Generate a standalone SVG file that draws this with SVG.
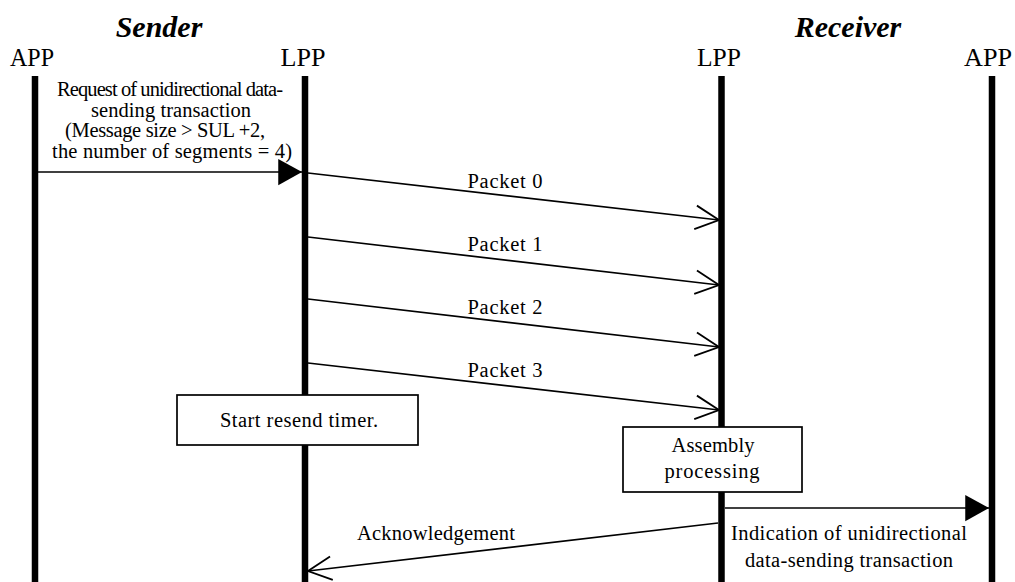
<svg xmlns="http://www.w3.org/2000/svg" width="1015" height="582" viewBox="0 0 1015 582">
  <style>
    .title { font-family: "Liberation Serif", "Times New Roman", serif; font-size: 30px; font-weight: bold; font-style: italic; fill: #000; text-anchor: middle; }
    .head { font-family: "Liberation Serif", "Times New Roman", serif; font-size: 26px; fill: #000; text-anchor: middle; }
    .lbl { font-family: "Liberation Serif", "Times New Roman", serif; font-size: 20.5px; fill: #000; text-anchor: middle; }
    .life { stroke: #000; stroke-width: 6.5; }
    .msg { stroke: #000; stroke-width: 1.7; fill: none; }
    .box { fill: #fff; stroke: #000; stroke-width: 1.7; }
  </style>
  <defs>
    <marker id="open" markerUnits="userSpaceOnUse" markerWidth="30" markerHeight="30" refX="0" refY="0" viewBox="-25 -14 28 28" orient="auto" overflow="visible">
      <path d="M-22,-11 L0,0 L-22,11" fill="none" stroke="#000" stroke-width="1.7"/>
    </marker>
    <marker id="solid" markerUnits="userSpaceOnUse" markerWidth="30" markerHeight="30" refX="0" refY="0" viewBox="-22 -12 24 24" orient="auto" overflow="visible">
      <path d="M-19,-10.5 L0,0 L-19,10.5 Z" fill="#000"/>
    </marker>
  </defs>

  <rect width="1015" height="582" fill="#fff"/>

  <!-- Side titles -->
  <text class="title" x="159" y="37">Sender</text>
  <text class="title" x="848" y="37">Receiver</text>

  <!-- Lifelines -->
  <g id="sender-app">
    <text class="head" x="32" y="66" textLength="44" lengthAdjust="spacingAndGlyphs">APP</text>
    <line class="life" x1="35" y1="76" x2="35" y2="582"/>
  </g>
  <g id="sender-lpp">
    <text class="head" x="303" y="66" textLength="45" lengthAdjust="spacingAndGlyphs">LPP</text>
    <line class="life" x1="305" y1="76" x2="305" y2="582"/>
  </g>
  <g id="receiver-lpp">
    <text class="head" x="719" y="66" textLength="44" lengthAdjust="spacingAndGlyphs">LPP</text>
    <line class="life" x1="721.5" y1="76" x2="721.5" y2="582"/>
  </g>
  <g id="receiver-app">
    <text class="head" x="988" y="66" textLength="48" lengthAdjust="spacingAndGlyphs">APP</text>
    <line class="life" x1="992" y1="76" x2="992" y2="582"/>
  </g>

  <!-- Messages -->
  <g id="connectors">
    <line class="msg" x1="38" y1="172" x2="302" y2="172" marker-end="url(#solid)"/>
    <line class="msg" x1="308" y1="173" x2="719" y2="220" marker-end="url(#open)"/>
    <line class="msg" x1="308" y1="237" x2="719" y2="285" marker-end="url(#open)"/>
    <line class="msg" x1="308" y1="299" x2="719" y2="347" marker-end="url(#open)"/>
    <line class="msg" x1="308" y1="363" x2="719" y2="410" marker-end="url(#open)"/>
    <line class="msg" x1="725" y1="508" x2="989" y2="508" marker-end="url(#solid)"/>
    <line class="msg" x1="718" y1="523" x2="308" y2="571" marker-end="url(#open)"/>
  </g>

  <!-- Message labels -->
  <g id="request-label">
    <text class="lbl" x="170" y="96" textLength="226">Request of unidirectional data-</text>
    <text class="lbl" x="171" y="116.5" textLength="160">sending transaction</text>
    <text class="lbl" x="165" y="137" textLength="200">(Message size &gt; SUL +2,</text>
    <text class="lbl" x="172" y="157.5" textLength="240">the number of segments = 4)</text>
  </g>
  <g id="packet-labels">
    <text class="lbl" x="505" y="188" textLength="75">Packet 0</text>
    <text class="lbl" x="505" y="251" textLength="75">Packet 1</text>
    <text class="lbl" x="505" y="314" textLength="75">Packet 2</text>
    <text class="lbl" x="505" y="377" textLength="75">Packet 3</text>
  </g>
  <g id="ack-label">
    <text class="lbl" x="436" y="540" textLength="158">Acknowledgement</text>
  </g>
  <g id="indication-label">
    <text class="lbl" x="849" y="540" textLength="236">Indication of unidirectional</text>
    <text class="lbl" x="849" y="567" textLength="208">data-sending transaction</text>
  </g>

  <!-- Local processing boxes -->
  <g id="resend-timer">
    <rect class="box" x="177" y="395" width="241" height="50"/>
    <text class="lbl" x="299" y="427" textLength="158">Start resend timer.</text>
  </g>
  <g id="assembly">
    <rect class="box" x="623" y="427" width="179" height="65"/>
    <text class="lbl" x="713" y="452" textLength="83">Assembly</text>
    <text class="lbl" x="712" y="478" textLength="95">processing</text>
  </g>
</svg>
